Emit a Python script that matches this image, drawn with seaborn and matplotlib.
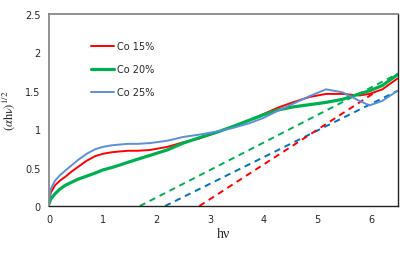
import pandas as pd
import matplotlib
matplotlib.use("Agg")
import matplotlib.pyplot as plt
import seaborn as sns
from matplotlib.ticker import FuncFormatter, MultipleLocator

# photon energy grid
hv = [0, 0.03, 0.11, 0.2, 0.3, 0.42, 0.54, 0.7, 0.86, 1.0, 1.16, 1.3, 1.47, 1.65, 1.88,
      2.2, 2.5, 2.8, 3.12, 3.44, 3.74, 4.0, 4.26, 4.54, 4.85, 5.16, 5.47, 5.78, 5.97, 6.21, 6.49]

co15 = [0.03, 0.17, 0.27, 0.33, 0.38, 0.45, 0.51, 0.59, 0.65, 0.68, 0.70, 0.71, 0.72, 0.72, 0.73,
        0.77, 0.83, 0.88, 0.96, 1.04, 1.12, 1.20, 1.28, 1.35, 1.42, 1.46, 1.46, 1.44, 1.46, 1.52, 1.66]
co20 = [0.03, 0.09, 0.16, 0.22, 0.27, 0.31, 0.35, 0.39, 0.43, 0.47, 0.50, 0.53, 0.57, 0.61, 0.66,
        0.73, 0.82, 0.89, 0.96, 1.04, 1.12, 1.19, 1.25, 1.29, 1.32, 1.35, 1.39, 1.46, 1.50, 1.57, 1.71]
co25 = [0.04, 0.22, 0.33, 0.40, 0.46, 0.53, 0.60, 0.68, 0.74, 0.77, 0.79, 0.80, 0.81, 0.81, 0.82,
        0.85, 0.90, 0.93, 0.97, 1.02, 1.08, 1.15, 1.24, 1.33, 1.43, 1.52, 1.48, 1.37, 1.31, 1.37, 1.50]

# linear extrapolations (Tauc fits)
fit15_x = [2.8, 6.05]
fit15_y = [0, 1.47]
fit20_x = [1.69, 6.49]
fit20_y = [0, 1.72]
fit25_x = [2.16, 6.49]
fit25_y = [0, 1.50]

sns.set_style("white")
plt.rcParams["font.family"] = ["DejaVu Sans"]
plt.rcParams["mathtext.fontset"] = "stix"
plt.rcParams["lines.scale_dashes"] = False

fig = plt.figure(figsize=(4.09, 2.55), dpi=100)
ax = fig.add_axes([0.12, 0.188, 0.853, 0.753])

sns.lineplot(x=fit20_x, y=fit20_y, ax=ax, color="#00B050", lw=1.4)
sns.lineplot(x=fit25_x, y=fit25_y, ax=ax, color="#0070C0", lw=1.4)
sns.lineplot(x=fit15_x, y=fit15_y, ax=ax, color="#FF0000", lw=1.4)
for ln in ax.lines:
    ln.set_dashes((4.5, 3.5))

sns.lineplot(x=hv, y=co15, ax=ax, color="#FF0000", lw=1.4, sort=False, label="Co 15%")
sns.lineplot(x=hv, y=co20, ax=ax, color="#00B050", lw=2.3, sort=False, label="Co 20%")
sns.lineplot(x=hv, y=co25, ax=ax, color="#5B8FD6", lw=1.4, sort=False, label="Co 25%")

ax.set_xlim(0, 6.5)
ax.set_ylim(0, 2.5)
ax.xaxis.set_major_locator(MultipleLocator(1))
ax.yaxis.set_major_locator(MultipleLocator(0.5))
ax.yaxis.set_major_formatter(FuncFormatter(lambda v, p: "%g" % v))
ax.tick_params(axis="both", length=0, labelsize=7, pad=6)

for s in ["left", "top"]:
    ax.spines[s].set_color("#888888")
    ax.spines[s].set_linewidth(1.3)
for s in ["right", "bottom"]:
    ax.spines[s].set_color("#222222")
    ax.spines[s].set_linewidth(1.0)

ax.set_xlabel("hν", family="Liberation Serif", fontsize=10, labelpad=2)
ax.set_ylabel(r"$(\alpha \mathrm{h\nu})^{1/2}$", fontsize=9, labelpad=6)

ax.legend(loc="upper left", bbox_to_anchor=(0.105, 0.885), frameon=False, fontsize=7,
          handlelength=2.4, handletextpad=0.3, labelspacing=1.35, borderpad=0)

fig.savefig("out.png", dpi=100)
